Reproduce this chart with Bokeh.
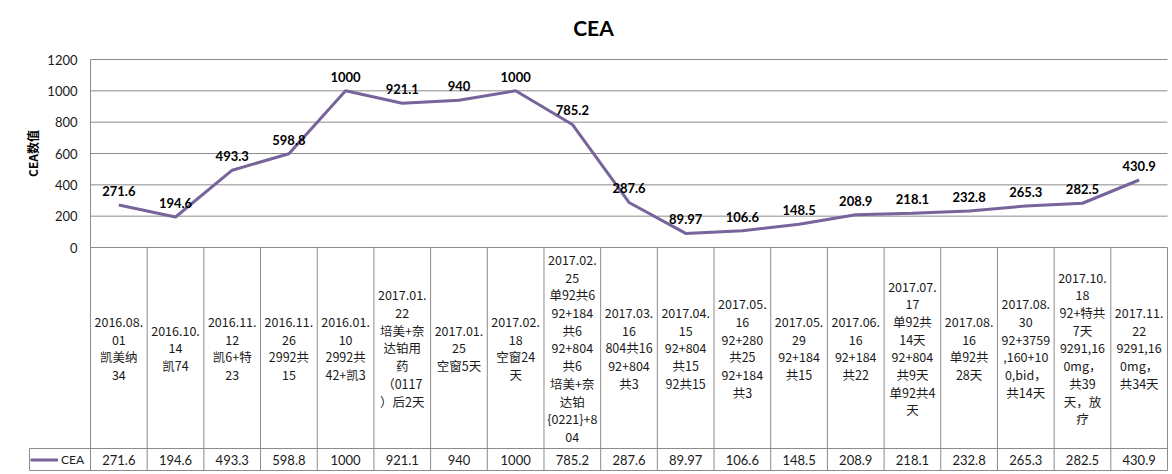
import math
from bokeh.plotting import figure
from bokeh.models import Range1d, Legend, LegendItem
from bokeh.core.properties import value
from bokeh.embed import file_html
from bokeh.resources import INLINE

# ---------------- data ----------------
title_text = "CEA"
y_label = "CEA数值"
series_name = "CEA"
categories = [
    "2016.08.\n01\n凯美纳\n34",
    "2016.10.\n14\n凯74",
    "2016.11.\n12\n凯6+特\n23",
    "2016.11.\n26\n2992共\n15",
    "2016.01.\n10\n2992共\n42+凯3",
    "2017.01.\n22\n培美+奈\n达铂用\n药\n（0117\n）后2天",
    "2017.01.\n25\n空窗5天",
    "2017.02.\n18\n空窗24\n天",
    "2017.02.\n25\n单92共6\n92+184\n共6\n92+804\n共6\n培美+奈\n达铂\n{0221}+8\n04",
    "2017.03.\n16\n804共16\n92+804\n共3",
    "2017.04.\n15\n92+804\n共15\n92共15",
    "2017.05.\n16\n92+280\n共25\n92+184\n共3",
    "2017.05.\n29\n92+184\n共15",
    "2017.06.\n16\n92+184\n共22",
    "2017.07.\n17\n单92共\n14天\n92+804\n共9天\n单92共4\n天",
    "2017.08.\n16\n单92共\n28天",
    "2017.08.\n30\n92+3759\n,160+10\n0,bid，\n共14天",
    "2017.10.\n18\n92+特共\n7天\n9291,16\n0mg，\n共39\n天，放\n疗",
    "2017.11.\n22\n9291,16\n0mg，\n共34天",
]
cea_values = [271.6, 194.6, 493.3, 598.8, 1000, 921.1, 940, 1000, 785.2, 287.6,
              89.97, 106.6, 148.5, 208.9, 218.1, 232.8, 265.3, 282.5, 430.9]
y_ticks = [0, 200, 400, 600, 800, 1000, 1200]

# ---------------- layout constants (pixels) ----------------
W, H = 1170, 472
n = len(cea_values)
COL0, COLN = 90, 1167            # left / right table borders
col_w = (COLN - COL0) / n
Y1200, Y0 = 59, 247              # pixel rows of 1200 and 0
ROW_PX, BOT_PX = 448, 470        # table row divider and bottom line
ppu = (Y0 - Y1200) / 1200.0


def xdata(px):
    return (px - COL0) / col_w


def ydata(px):
    return -(px - Y0) / ppu


LINE_COLOR = "#76649A"
GRID_COLOR = "#8C8C8C"
TEXT_COLOR = "#1A1A1A"
NUM_FONT = value("Lato")
CJK_FONT = value("Noto Sans CJK SC")

xs = [i + 0.5 for i in range(n)]
labels = [f"{v:g}" for v in cea_values]

p = figure(width=W, height=H, output_backend="svg", toolbar_location=None,
           x_range=Range1d(xdata(0), xdata(W)), y_range=Range1d(ydata(H), ydata(0)),
           x_axis_location=None, y_axis_location=None,
           min_border_left=0, min_border_right=0, min_border_top=0, min_border_bottom=0)
p.outline_line_color = None
p.xgrid.visible = False
p.ygrid.visible = False

# ---------------- title and value axis ----------------
p.text([xdata(593)], [ydata(27)], text=[title_text], text_align="center",
       text_baseline="middle", text_font=NUM_FONT, text_font_size="21px",
       text_font_style="bold", text_color="#000000")

nt = len(y_ticks)
p.segment(x0=[0] * nt, y0=y_ticks, x1=[n] * nt, y1=y_ticks,
          line_color=GRID_COLOR, line_width=1)
p.text([xdata(77)] * nt, y_ticks, text=[str(t) for t in y_ticks], text_align="right",
       text_baseline="middle", text_font=NUM_FONT, text_font_size="13px",
       text_color=TEXT_COLOR)
p.text([xdata(32)], [ydata(153)], text=[y_label], angle=math.pi / 2, text_align="center",
       text_baseline="middle", text_font=CJK_FONT, text_font_size="12px",
       text_font_style="bold", text_color="#000000")

# ---------------- data table grid ----------------
y_row = ydata(ROW_PX)
y_bot = ydata(BOT_PX)
x_leg = xdata(29)
bx = list(range(1, n + 1))
p.segment(x0=bx, y0=[y_bot] * n, x1=bx, y1=[0] * n, line_color=GRID_COLOR, line_width=1)
p.segment(x0=[0, x_leg], y0=[y_bot, y_bot], x1=[0, x_leg], y1=[max(y_ticks), y_row],
          line_color=GRID_COLOR, line_width=1)
p.segment(x0=[x_leg, x_leg], y0=[y_row, y_bot], x1=[n, n], y1=[y_row, y_bot],
          line_color=GRID_COLOR, line_width=1)

cat_mid = ydata((Y0 + ROW_PX) / 2)
p.text(xs, [cat_mid] * n, text=categories, text_align="center", text_baseline="middle",
       text_font=CJK_FONT, text_font_size="12.5px", text_line_height=0.93,
       text_color=TEXT_COLOR)
val_mid = ydata((ROW_PX + BOT_PX) / 2)
p.text(xs, [val_mid] * n, text=labels, text_align="center", text_baseline="middle",
       text_font=NUM_FONT, text_font_size="13px", text_color=TEXT_COLOR)

# ---------------- the series ----------------
line_r = p.line(xs, cea_values, line_color=LINE_COLOR, line_width=3)
p.text(xs, cea_values, text=labels, text_align="center", text_baseline="bottom",
       y_offset=-9, text_font=NUM_FONT, text_font_size="13px", text_font_style="bold",
       text_color="#000000")

# legend key inside the left cell of the value row
legend = Legend(items=[LegendItem(label=series_name, renderers=[line_r])],
                location=(30, H - 467),
                border_line_color=None, background_fill_alpha=0.0,
                padding=2, margin=0, spacing=0,
                glyph_width=28, glyph_height=15, label_standoff=3,
                label_text_font="Lato", label_text_font_size="12px",
                label_text_color=TEXT_COLOR, label_height=15)
p.add_layout(legend)

open("out.html", "w").write(file_html(p, INLINE))
